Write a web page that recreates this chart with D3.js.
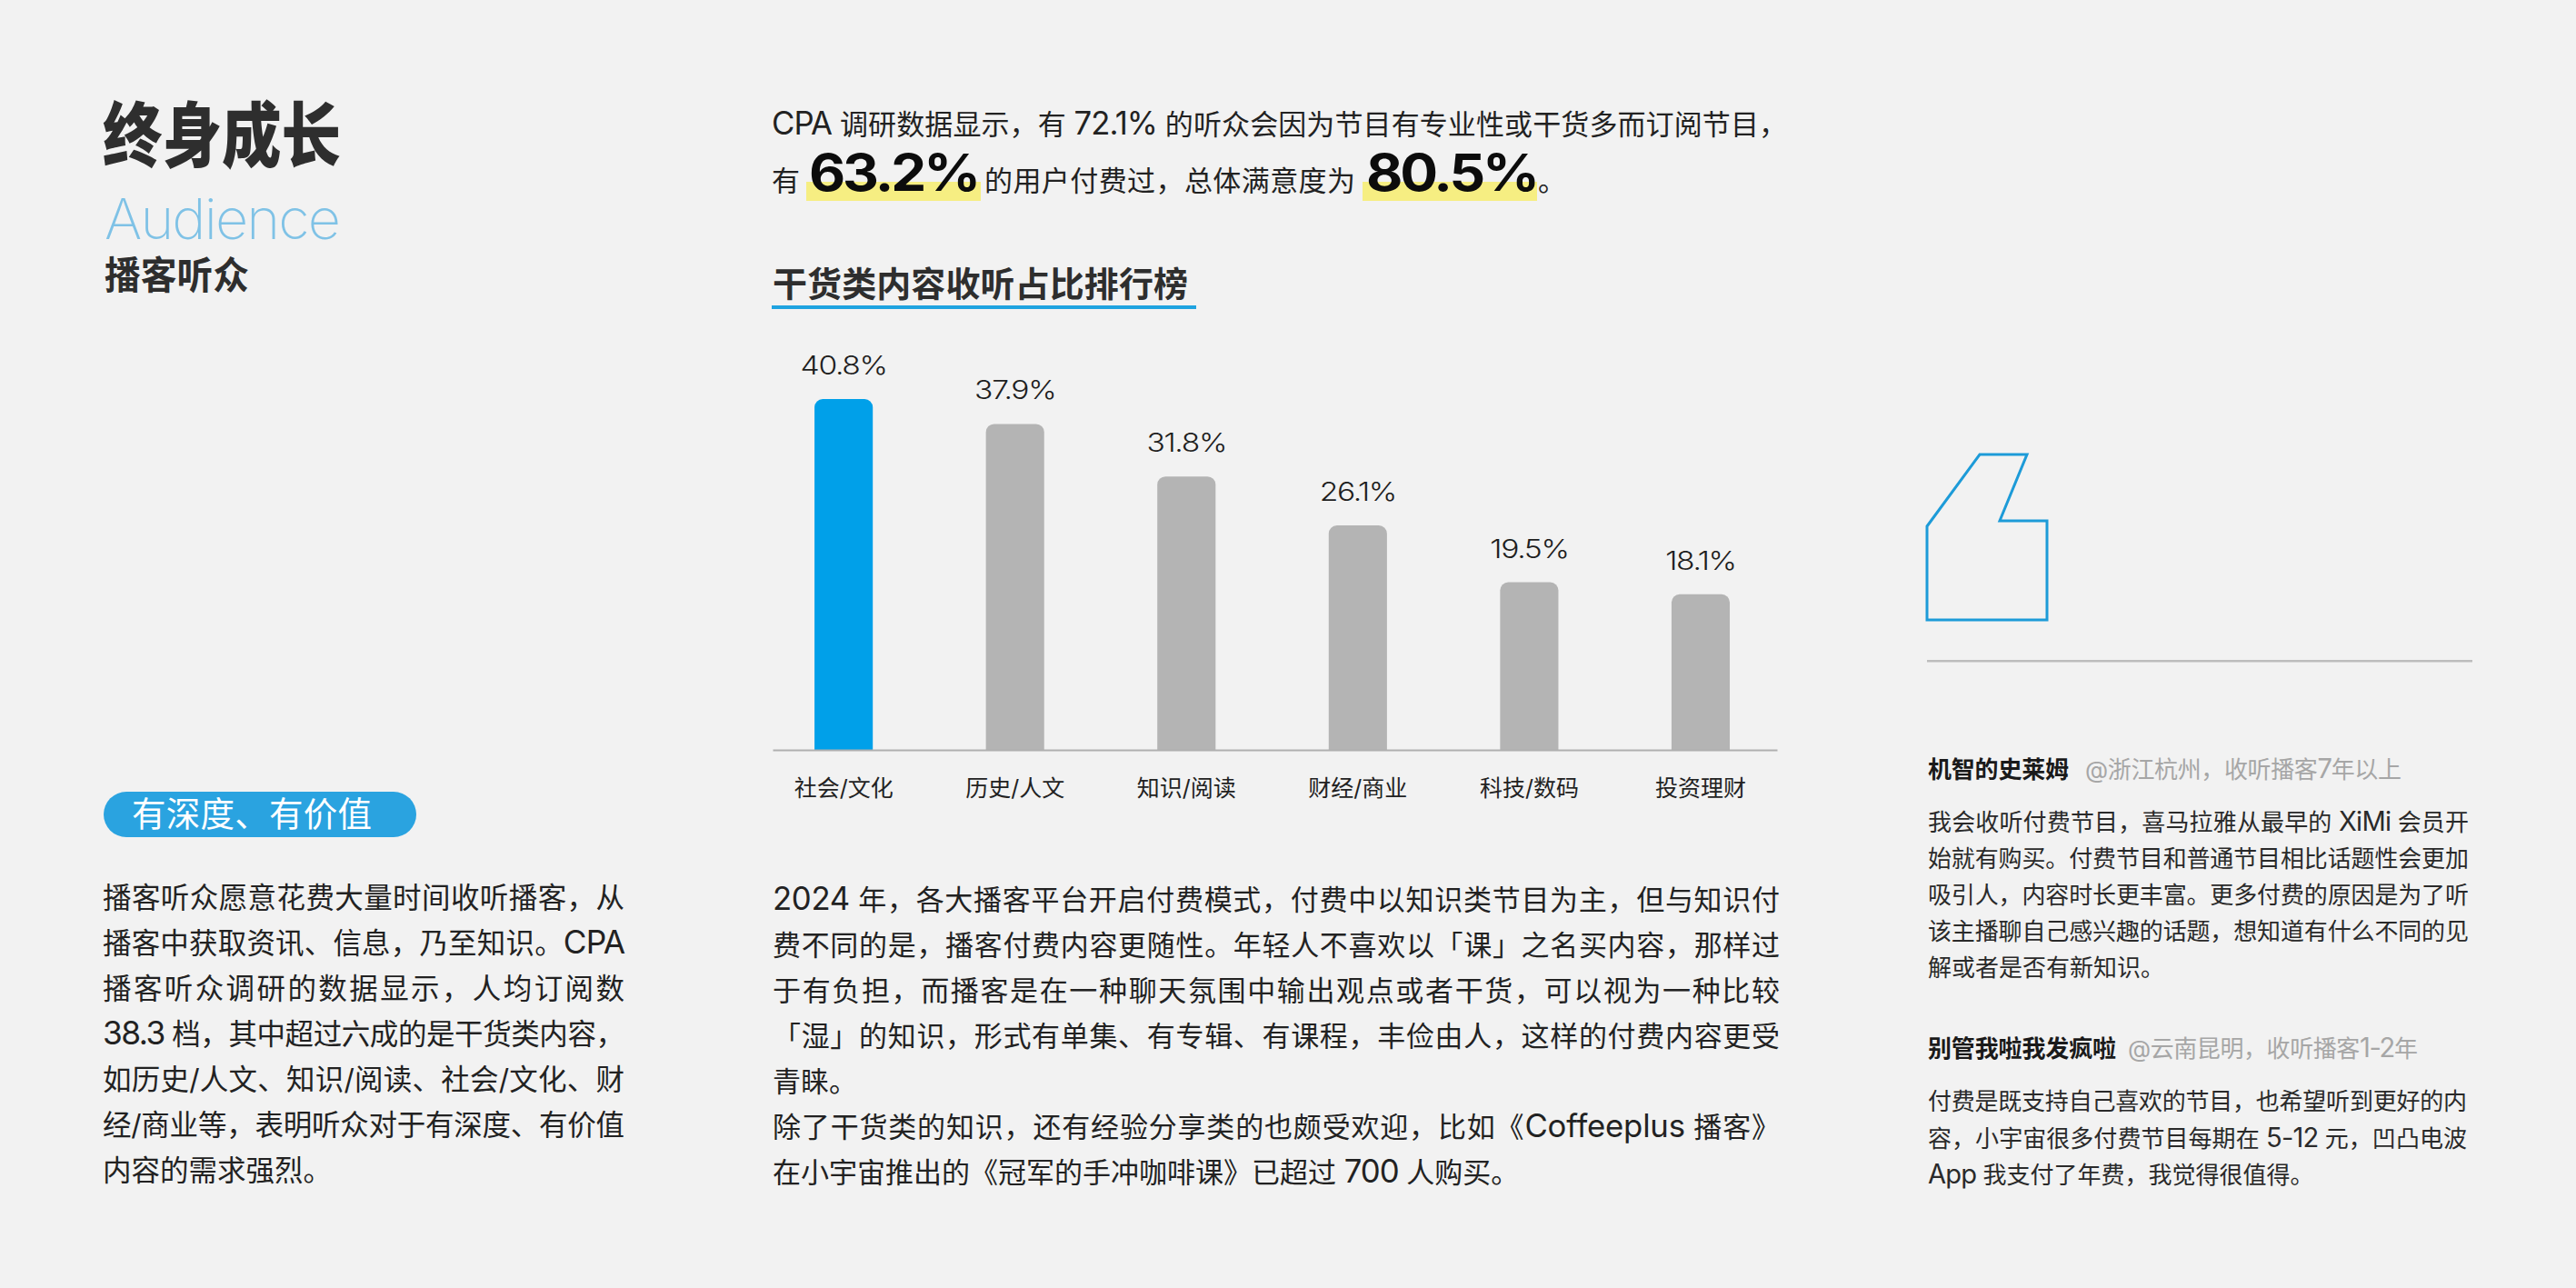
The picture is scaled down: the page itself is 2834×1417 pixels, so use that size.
<!DOCTYPE html>
<html>
<head>
<meta charset="utf-8">
<script src="https://cdn.jsdelivr.net/npm/d3@7"></script>
<style>
  html, body { margin: 0; padding: 0; background: #f2f2f2; }
  svg { display: block; }
  text { font-family: "Inter", "Noto Sans CJK SC", sans-serif; fill: #1e1e1e; }
</style>
</head>
<body>
<div id="svg-div"></div>
<script>
var categories = ["社会/文化", "历史/人文", "知识/阅读", "财经/商业", "科技/数码", "投资理财"];
var shares = [40.8, 37.9, 31.8, 26.1, 19.5, 18.1];

var chartTitle = "干货类内容收听占比排行榜";
var introLine = "CPA 调研数据显示，有 72.1% 的听众会因为节目有专业性或干货多而订阅节目，";
var paidShare = "63.2%";
var satisfaction = "80.5%";

var leftLines = [
  "播客听众愿意花费大量时间收听播客，从",
  "播客中获取资讯、信息，乃至知识。CPA",
  "播客听众调研的数据显示，人均订阅数",
  "38.3 档，其中超过六成的是干货类内容，",
  "如历史/人文、知识/阅读、社会/文化、财",
  "经/商业等，表明听众对于有深度、有价值",
  "内容的需求强烈。"
];
var middleLines = [
  "2024 年，各大播客平台开启付费模式，付费中以知识类节目为主，但与知识付",
  "费不同的是，播客付费内容更随性。年轻人不喜欢以「课」之名买内容，那样过",
  "于有负担，而播客是在一种聊天氛围中输出观点或者干货，可以视为一种比较",
  "「湿」的知识，形式有单集、有专辑、有课程，丰俭由人，这样的付费内容更受",
  "青睐。",
  "除了干货类的知识，还有经验分享类的也颇受欢迎，比如《Coffeeplus 播客》",
  "在小宇宙推出的《冠军的手冲咖啡课》已超过 700 人购买。"
];
var quoteOneLines = [
  "我会收听付费节目，喜马拉雅从最早的 XiMi 会员开",
  "始就有购买。付费节目和普通节目相比话题性会更加",
  "吸引人，内容时长更丰富。更多付费的原因是为了听",
  "该主播聊自己感兴趣的话题，想知道有什么不同的见",
  "解或者是否有新知识。"
];
var quoteTwoLines = [
  "付费是既支持自己喜欢的节目，也希望听到更好的内",
  "容，小宇宙很多付费节目每期在 5-12 元，凹凸电波",
  "App 我支付了年费，我觉得很值得。"
];

var width = 2834;
var height = 1417;
var svg = d3.select("#svg-div").append("svg")
  .attr("width", width).attr("height", height);

svg.append("rect").attr("width", width).attr("height", height).attr("fill", "#f2f2f2");

/**
 * Adds one text line, y is the vertical middle of the glyphs. Latin runs go in
 * their own tspan, a bit larger and tighter, since the original latin face is wide
 * @param opts size, weight, color, fit (stretch to this width), glyphs (stretch glyphs too)
 */
function label(str, x, y, opts) {
  var t = svg.append("text")
    .attr("x", x)
    .attr("y", y + opts.size * 0.36)
    .style("font-size", opts.size + "px")
    .style("font-weight", opts.weight || 400)
    .style("fill", opts.color || "#1e1e1e");
  if (opts.tight) t.style("letter-spacing", opts.tight + "em");
  str.split(/([A-Za-z0-9.%\-]+)/).forEach(function(run, i) {
    if (run === "") return;
    var span = t.append("tspan").text(run);
    if (i % 2 === 1 && !opts.tight) {
      span.style("font-size", (opts.size * 1.12) + "px").style("letter-spacing", "-0.03em");
    }
  });
  if (opts.fit) {
    t.attr("textLength", opts.fit)
     .attr("lengthAdjust", opts.glyphs ? "spacingAndGlyphs" : "spacing");
  }
  return t;
}

/**
 * Draws a paragraph line by line, every line but the short ones stretched to full width
 */
function paragraph(lines, x, top, step, size, fullWidth, shortLines, color) {
  lines.forEach(function(line, i) {
    var isShort = shortLines.indexOf(i) >= 0;
    label(line, x, top + i * step, { size: size, weight: 400, color: color, fit: isShort ? null : fullWidth });
  });
}

// left column
label("终身成长", 113, 150, { size: 78, weight: 900, color: "#2e2e2e", fit: 262, glyphs: true });
label("Audience", 115, 241, { size: 62, weight: 200, color: "#7fc2e6", fit: 258, glyphs: true, tight: -0.03 });
label("播客听众", 115, 303, { size: 42, weight: 700, color: "#2e2e2e", fit: 159, glyphs: true });

svg.append("rect")
  .attr("x", 114).attr("y", 871).attr("width", 344).attr("height", 50).attr("rx", 25)
  .attr("fill", "#2aa3e0");
label("有深度、有价值", 145, 895, { size: 37.5, weight: 400, color: "#ffffff", fit: 264 });

paragraph(leftLines, 113, 988, 50, 31.5, 574, [6], "#222222");

// middle column, intro
label(introLine, 849, 137, { size: 31, weight: 400, color: "#222222", fit: 1117 });

var highlightColor = "#f6ee82";
svg.append("rect").attr("x", 887).attr("y", 200).attr("width", 192).attr("height", 21).attr("fill", highlightColor);
svg.append("rect").attr("x", 1499).attr("y", 200).attr("width", 192).attr("height", 21).attr("fill", highlightColor);

label("有", 849, 199, { size: 31, color: "#222222" });
label(paidShare, 890, 190, { size: 56, weight: 700, color: "#0c0c0c", fit: 186, glyphs: true, tight: -0.05 });
label("的用户付费过，总体满意度为", 1083, 199, { size: 31, color: "#222222", fit: 408 });
label(satisfaction, 1503, 190, { size: 56, weight: 700, color: "#0c0c0c", fit: 188, glyphs: true, tight: -0.05 });
label("。", 1692, 199, { size: 31, color: "#222222" });

// chart heading
label(chartTitle, 850, 312, { size: 38, weight: 700, color: "#2e2e2e", fit: 457 });
svg.append("rect").attr("x", 849).attr("y", 336).attr("width", 467).attr("height", 4).attr("fill", "#1fa3e0");

// bar chart
var baseline = 825;
var x = d3.scaleBand()
  .domain(categories)
  .range([850, 1955])
  .paddingInner(0.66)
  .paddingOuter(0.26)
  .align(0.47);
var y = d3.scaleLinear()
  .domain([0, 40.8])
  .range([baseline, 439]);

function barPath(d, i) {
  var left = x(categories[i]);
  var right = left + x.bandwidth();
  var top = y(d);
  var r = 9;
  var p = d3.path();
  p.moveTo(left, baseline);
  p.lineTo(left, top + r);
  p.arcTo(left, top, left + r, top, r);
  p.lineTo(right - r, top);
  p.arcTo(right, top, right, top + r, r);
  p.lineTo(right, baseline);
  p.closePath();
  return p.toString();
}

svg.selectAll(".bar")
  .data(shares)
  .enter().append("path")
  .attr("class", "bar")
  .attr("d", barPath)
  .attr("fill", function(d, i) { return i === 0 ? "#00a0e9" : "#b4b4b4"; });

svg.selectAll(".value")
  .data(shares)
  .enter().append("text")
  .attr("class", "value")
  .attr("x", function(d, i) { return x(categories[i]) + x.bandwidth() / 2; })
  .attr("y", function(d) { return y(d) - 27; })
  .attr("text-anchor", "middle")
  .style("font-size", "28px")
  .style("font-weight", 300)
  .style("letter-spacing", "-0.04em")
  .text(function(d) { return d + "%"; })
  .attr("textLength", function() { return this.getComputedTextLength() * 1.2; })
  .attr("lengthAdjust", "spacingAndGlyphs");

var axis = svg.append("g")
  .attr("transform", "translate(0," + baseline + ")")
  .call(d3.axisBottom(x).tickSize(0).tickSizeOuter(0).tickPadding(33));
axis.select(".domain").attr("stroke", "#b0b0b0").attr("stroke-width", 2);
axis.selectAll("text")
  .attr("font-family", null)
  .style("font-size", "25px")
  .style("fill", "#222222");

paragraph(middleLines, 850, 990, 50, 31, 1108, [4, 6], "#222222");

// right column
svg.append("path")
  .attr("d", "M2120,579 L2178,500 L2230,500 L2200,573 L2252,573 L2252,682 L2120,682 Z")
  .attr("fill", "none")
  .attr("stroke", "#1d9bd8")
  .attr("stroke-width", 3);
svg.append("rect").attr("x", 2120).attr("y", 726).attr("width", 600).attr("height", 2.5).attr("fill", "#bdbdbd");

label("机智的史莱姆", 2121, 847, { size: 26, weight: 700, color: "#1a1a1a", fit: 155 });
label("@浙江杭州，收听播客7年以上", 2294, 847, { size: 26, color: "#a6a6a6", fit: 348 });
paragraph(quoteOneLines, 2121, 905, 40, 26, 595, [4], "#2a2a2a");

label("别管我啦我发疯啦", 2121, 1154, { size: 26, weight: 700, color: "#1a1a1a", fit: 207 });
label("@云南昆明，收听播客1-2年", 2341, 1154, { size: 26, color: "#a6a6a6", fit: 319 });
paragraph(quoteTwoLines, 2121, 1212, 40.5, 26, 593, [2], "#2a2a2a");
</script>
</body>
</html>
